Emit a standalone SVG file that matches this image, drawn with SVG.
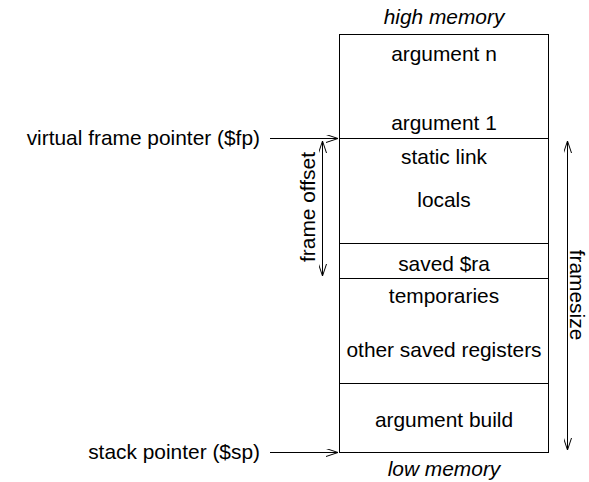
<svg xmlns="http://www.w3.org/2000/svg" width="589" height="482" viewBox="0 0 589 482">
<style>
text{font-family:"Liberation Sans",Arial,sans-serif;font-size:20.9px;fill:#000}
.c{text-anchor:middle}
.r{text-anchor:end}
.i{font-style:italic}
.box{fill:#fff;stroke:#000;stroke-width:1}
.ln{stroke:#000;stroke-width:1;fill:none}
</style>
<defs>
<marker id="ah" viewBox="0 0 12 8" refX="12" refY="4" markerWidth="12" markerHeight="8" markerUnits="userSpaceOnUse" orient="auto-start-reverse">
<path d="M0,0 L12,4 L0,8" fill="none" stroke="#000" stroke-width="1"/>
</marker>
</defs>
<g id="stack">
<rect class="box" x="339.5" y="34.5" width="209" height="418"/>
<line class="ln" x1="339.5" y1="138.5" x2="548.5" y2="138.5"/>
<line class="ln" x1="339.5" y1="243.5" x2="548.5" y2="243.5"/>
<line class="ln" x1="339.5" y1="278.5" x2="548.5" y2="278.5"/>
<line class="ln" x1="339.5" y1="383.5" x2="548.5" y2="383.5"/>
</g>
<g id="labels">
<text class="c i" x="444" y="24">high memory</text>
<text class="c" x="444" y="61">argument n</text>
<text class="c" x="444" y="130">argument 1</text>
<text class="c" x="444" y="164">static link</text>
<text class="c" x="444" y="207">locals</text>
<text class="c" x="444" y="271">saved $ra</text>
<text class="c" x="444" y="303">temporaries</text>
<text class="c" x="444" y="357">other saved registers</text>
<text class="c" x="444" y="427">argument build</text>
<text class="c i" x="444" y="476">low memory</text>
<text class="r" x="260" y="145">virtual frame pointer ($fp)</text>
<text class="r" x="260" y="459">stack pointer ($sp)</text>
<text class="c" transform="translate(315,207) rotate(-90)">frame offset</text>
<text class="c" transform="translate(570,295) rotate(90)">framesize</text>
</g>
<g id="connectors">
<line class="ln" x1="270" y1="138.5" x2="338" y2="138.5" marker-end="url(#ah)"/>
<line class="ln" x1="270" y1="452.5" x2="338" y2="452.5" marker-end="url(#ah)"/>
<line class="ln" x1="322.5" y1="141" x2="322.5" y2="276" marker-start="url(#ah)" marker-end="url(#ah)"/>
<line class="ln" x1="567.5" y1="141" x2="567.5" y2="450" marker-start="url(#ah)" marker-end="url(#ah)"/>
</g>
</svg>
